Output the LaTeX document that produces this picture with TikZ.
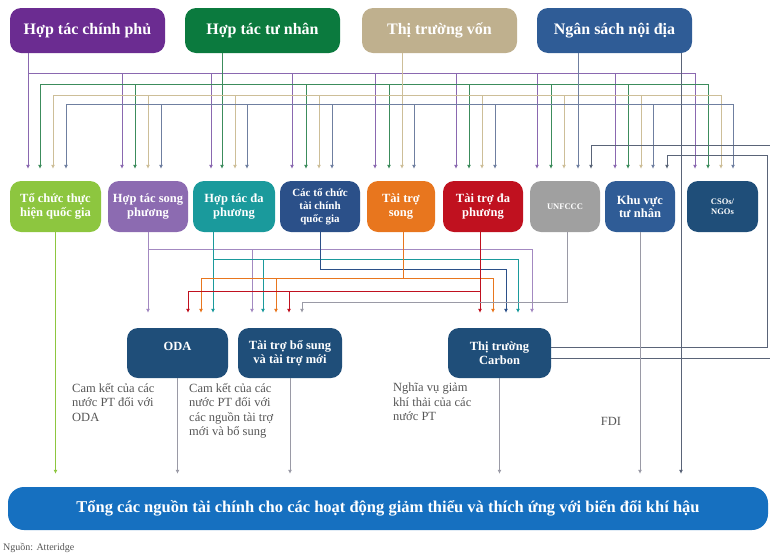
\documentclass[tikz,border=0pt]{standalone}
\usepackage{fontspec}
\setmainfont{Liberation Serif}
\usetikzlibrary{arrows.meta}

\definecolor{cGov}{HTML}{6B2C91}
\definecolor{cPriv}{HTML}{0B7A3E}
\definecolor{cCap}{HTML}{BFB08E}
\definecolor{cDom}{HTML}{2F5C96}
\definecolor{cNat}{HTML}{8DC63F}
\definecolor{cBi}{HTML}{8C6BB1}
\definecolor{cMul}{HTML}{1A9A9C}
\definecolor{cFin}{HTML}{2B5089}
\definecolor{cOra}{HTML}{E8761E}
\definecolor{cRed}{HTML}{C0111F}
\definecolor{cUn}{HTML}{A0A0A0}
\definecolor{cNavy}{HTML}{1F4E79}
\definecolor{cTot}{HTML}{1670C0}
\definecolor{lGov}{HTML}{8A68B0}
\definecolor{lPriv}{HTML}{3C8C5C}
\definecolor{lCap}{HTML}{CDBE98}
\definecolor{lDom}{HTML}{6F7FA0}
\definecolor{lDark}{HTML}{5A6478}
\definecolor{lGray}{HTML}{9A9AA6}
\definecolor{cNote}{HTML}{555555}

\tikzset{
  box/.style={rounded corners=11pt, inner sep=1pt, text=white, align=center,
    font=\bfseries\fontsize{12.5}{13.5}\selectfont},
  topbox/.style={box, minimum width=155pt, minimum height=45pt,
    font=\bfseries\fontsize{16}{17}\selectfont},
  midbox/.style={box, minimum height=51pt},
  lowbox/.style={box, fill=cNavy, minimum height=50pt},
  note/.style={text=cNote, align=left, inner sep=0pt,
    font=\fontsize{12.5}{14.5}\selectfont},
  ln/.style={line width=0.9pt},
  tip/.style={ln, -{Latex[length=4pt,width=4pt]}, shorten >=12pt},
  tipmid/.style={tip, shorten >=15pt},
  tipbot/.style={tip, shorten >=13pt}
}

\begin{document}
\begin{tikzpicture}[x=1pt,y=-1pt]
\useasboundingbox (0,0) rectangle (770,555);

% Nguon tai chinh (hang tren)
\node[topbox, fill=cGov] (hcp) at (87.5,30.5) {Hợp tác chính phủ};
\node[topbox, fill=cPriv] (htn) at (262.5,30.5) {Hợp tác tư nhân};
\node[topbox, fill=cCap] (ttv) at (439.5,30.5) {Thị trường vốn};
\node[topbox, fill=cDom] (nsn) at (614.5,30.5) {Ngân sách nội địa};

% Cac kenh (hang giua)
\node[midbox, fill=cNat, minimum width=91pt] (tchq) at (55.5,206.5) {Tổ chức thực\\hiện quốc gia};
\node[midbox, fill=cBi, minimum width=80pt] (htsp) at (148,206.5) {Hợp tác song\\phương};
\node[midbox, fill=cMul, minimum width=82pt] (htdp) at (234,206.5) {Hợp tác đa\\phương};
\node[midbox, fill=cFin, minimum width=80pt, font=\bfseries\fontsize{11}{13}\selectfont] (tctc) at (320,206.5) {Các tổ chức\\tài chính\\quốc gia};
\node[midbox, fill=cOra, minimum width=68pt] (tts) at (401,206.5) {Tài trợ\\song};
\node[midbox, fill=cRed, minimum width=80pt] (ttdp) at (483,206.5) {Tài trợ đa\\phương};
\node[midbox, fill=cUn, minimum width=70pt, font=\bfseries\fontsize{8.5}{10}\selectfont] (unf) at (565,206.5) {UNFCCC};
\node[midbox, fill=cDom, minimum width=70pt] (kvtn) at (640,206.5) {Khu vực\\tư nhân};
\node[midbox, fill=cNavy, minimum width=71pt, font=\bfseries\fontsize{8.5}{10}\selectfont] (cso) at (722.5,206.5) {CSOs/\\NGOs};

% Hang duoi
\node[lowbox, minimum width=101pt] (oda) at (177.5,353) {ODA\\\phantom{X}};
\node[lowbox, minimum width=104pt] (tbs) at (290,353) {Tài trợ bổ sung\\và tài trợ mới};
\node[lowbox, minimum width=103pt] (ttc) at (499.5,353) {Thị trường\\Carbon};

% Tong nguon tai chinh
\node[box, fill=cTot, minimum width=760pt, minimum height=43pt, rounded corners=16pt,
  font=\bfseries\fontsize{16.5}{17}\selectfont] (tong) at (388,508.5)
  {Tổng các nguồn tài chính cho các hoạt động giảm thiểu và thích ứng với biến đổi khí hậu};

% Ghi chu
\node[note, anchor=north west] (gc1) at (72,383) {Cam kết của các\\nước PT đối với\\ODA};
\node[note, anchor=north west] (gc2) at (189,383) {Cam kết của các\\nước PT đối với\\các nguồn tài trợ\\mới và bổ sung};
\node[note, anchor=north west] (gc3) at (393,383) {Nghĩa vụ giảm\\khí thải của các\\nước PT};
\node[note] (fdi) at (611,421) {FDI};
\node[note, anchor=west, font=\fontsize{10}{11}\selectfont] (nguon) at (3,548) {Nguồn: Atteridge};

% Duong tu hang tren xuong hang giua
\draw[ln, lGov] (hcp.south -| 28,0) -- (28,73) -- (695,73);
\foreach \x/\t in {28/tchq,122/htsp,211/htdp,292/tctc,375/tts,456/ttdp,537/unf,615/kvtn,695/cso}
  \draw[tip, lGov] (\x,73) -- (\x,0 |- \t.north);
\draw[ln, lPriv] (htn.south -| 222,0) -- (222,84);
\draw[ln, lPriv] (40,84) -- (708,84);
\foreach \x/\t in {40/tchq,135/htsp,222/htdp,306/tctc,389/tts,469/ttdp,551/unf,628/kvtn,708/cso}
  \draw[tip, lPriv] (\x,84) -- (\x,0 |- \t.north);
\draw[ln, lCap] (ttv.south -| 402,0) -- (402,95);
\draw[ln, lCap] (53,95) -- (721,95);
\foreach \x/\t in {53/tchq,148/htsp,235/htdp,319/tctc,402/tts,482/ttdp,564/unf,641/kvtn,721/cso}
  \draw[tip, lCap] (\x,95) -- (\x,0 |- \t.north);
\draw[ln, lDom] (nsn.south -| 578,0) -- (578,104);
\draw[ln, lDom] (66,104) -- (733,104);
\foreach \x/\t in {66/tchq,161/htsp,247/htdp,332/tctc,414/tts,495/ttdp,578/unf,653/kvtn,733/cso}
  \draw[tip, lDom] (\x,104) -- (\x,0 |- \t.north);

% Duong tu Thi truong Carbon vong len
\draw[tip, lDark] (ttc.east |- 0,347) -- (767,347) -- (767,155) -- (667,155) -- (667,0 |- kvtn.north);
\draw[ln, lDark] (ttc.east |- 0,358) -- (770,358);
\draw[tip, lDark] (770,145) -- (591,145) -- (591,0 |- unf.north);

% Duong tu hang giua xuong hang duoi
\draw[tipmid, cBi!80] (htsp.south) -- (htsp.south |- oda.north);
\draw[ln, cBi!80] (148,249) -- (532,249);
\draw[tipmid, cBi!80] (252,249) -- (252,0 |- tbs.north);
\draw[tipmid, cBi!80] (532,249) -- (532,0 |- ttc.north);
\draw[tipmid, cMul] (213,0 |- htdp.south) -- (213,0 |- oda.north);
\draw[ln, cMul] (213,259) -- (518,259);
\draw[tipmid, cMul] (263,259) -- (263,0 |- tbs.north);
\draw[tipmid, cMul] (518,259) -- (518,0 |- ttc.north);
\draw[tipmid, cFin] (tctc.south) -- (320,269) -- (506,269) -- (506,0 |- ttc.north);
\draw[ln, cOra] (403,0 |- tts.south) -- (403,278);
\draw[ln, cOra] (201,278) -- (493,278);
\foreach \x/\t in {201/oda,276/tbs,493/ttc}
  \draw[tipmid, cOra] (\x,278) -- (\x,0 |- \t.north);
\draw[tipmid, cRed] (480,0 |- ttdp.south) -- (480,0 |- ttc.north);
\draw[ln, cRed] (188,291) -- (480,291);
\foreach \x/\t in {188/oda,289/tbs}
  \draw[tipmid, cRed] (\x,291) -- (\x,0 |- \t.north);
\draw[tipmid, lGray] (567,0 |- unf.south) -- (567,302) -- (302,302) -- (302,0 |- tbs.north);

% Duong xuong tong nguon
\draw[tipbot, cNat] (tchq.south) -- (tchq.south |- tong.north);
\draw[tipbot, lGray] (oda.south) -- (oda.south |- tong.north);
\draw[tipbot, lGray] (tbs.south) -- (tbs.south |- tong.north);
\draw[tipbot, lGray] (ttc.south) -- (ttc.south |- tong.north);
\draw[tipbot, lGray] (kvtn.south) -- (kvtn.south |- tong.north);
\draw[tipbot, lDark] (nsn.south -| 681,0) -- (681,0 |- tong.north);
\end{tikzpicture}
\end{document}
